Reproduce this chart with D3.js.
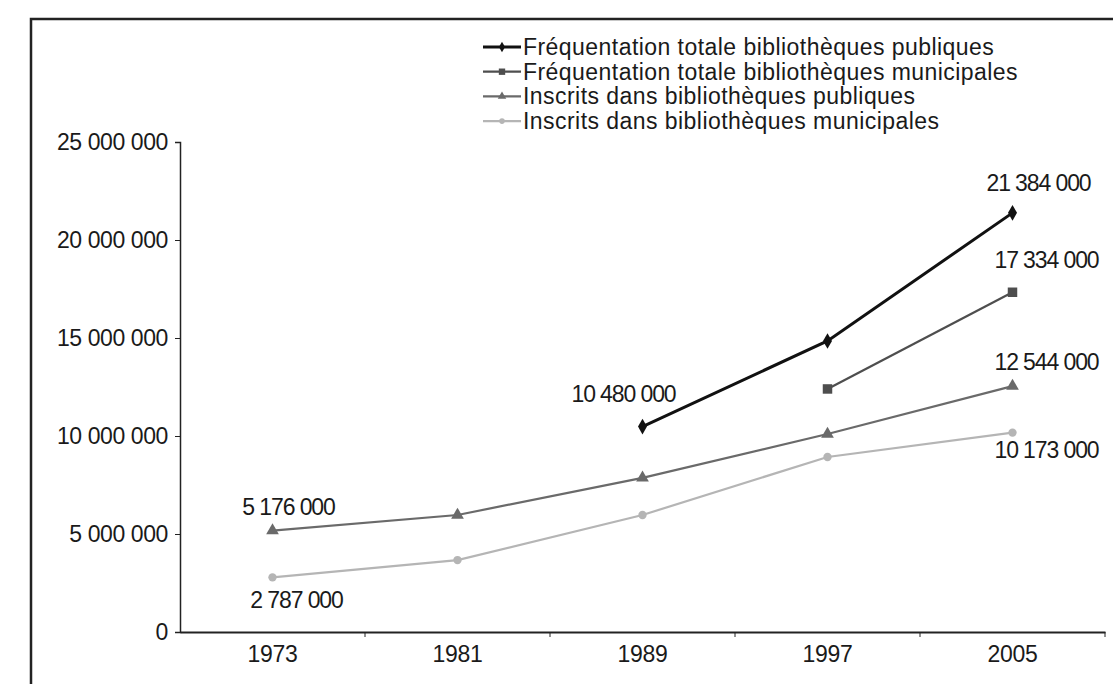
<!DOCTYPE html>
<html>
<head>
<meta charset="utf-8">
<script src="https://cdn.jsdelivr.net/npm/d3@7"></script>
<style>
  body { margin: 0; background: #fff; }
  text { font-family: "Liberation Sans", Arial, sans-serif; fill: #1a1a1a; }
</style>
</head>
<body>
<div id="chart"></div>
<script>
// categories and series
var years = ["1973", "1981", "1989", "1997", "2005"];
var seriesNames = [
  "Fréquentation totale bibliothèques publiques",
  "Fréquentation totale bibliothèques municipales",
  "Inscrits dans bibliothèques publiques",
  "Inscrits dans bibliothèques municipales"
];
var freqPubliques = [null, null, 10480000, 14850000, 21384000];
var freqMunicipales = [null, null, null, 12400000, 17334000];
var inscritsPubliques = [5176000, 5970000, 7860000, 10100000, 12544000];
var inscritsMunicipales = [2787000, 3670000, 5970000, 8930000, 10173000];
var yTicks = [0, 5000000, 10000000, 15000000, 20000000, 25000000];

var W = 1113, H = 684;
var margin = {top: 142, right: 8, bottom: 52, left: 180},
    width = W - margin.left - margin.right,
    height = H - margin.top - margin.bottom;

var svg = d3.select("#chart")
  .append("svg")
    .attr("width", W)
    .attr("height", H);

// outer frame
svg.append("path")
  .attr("d", "M31,690 L31,19 L1120,19")
  .attr("fill", "none")
  .attr("stroke", "#222")
  .attr("stroke-width", 2.5);

var g = svg.append("g")
  .attr("transform", "translate(" + margin.left + "," + margin.top + ")");

var x = d3.scaleBand()
  .domain(years)
  .range([0, width]);

var y = d3.scaleLinear()
  .domain([0, 25000000])
  .range([height, 0]);

var fmt = function(v) { return d3.format(",")(v).replace(/,/g, "\u00a0"); };

// Y axis
var yAxis = g.append("g")
  .call(d3.axisLeft(y).tickValues(yTicks).tickSize(5).tickFormat(function(d) { return d === 0 ? "0" : fmt(d); }));
yAxis.select(".domain").attr("stroke", "#222").attr("stroke-width", 1.5);
yAxis.selectAll(".tick line").attr("stroke", "#222");
yAxis.selectAll("text")
  .attr("x", -12)
  .style("font-size", "23px")
  .style("letter-spacing", "-0.4px")
  .attr("fill", "#1a1a1a");

// X axis with ticks at the band edges
var xAxis = g.append("g")
  .attr("transform", "translate(0," + height + ")")
  .call(d3.axisBottom(x).tickSize(0).tickPadding(14));
xAxis.select(".domain").attr("stroke", "#222").attr("stroke-width", 2);
xAxis.selectAll("text")
  .style("font-size", "23px")
  .style("letter-spacing", "-0.3px")
  .attr("fill", "#1a1a1a");
xAxis.selectAll(".edge")
  .data(years)
  .enter()
  .append("line")
    .attr("x1", function(d) { return x(d) + x.bandwidth(); })
    .attr("x2", function(d) { return x(d) + x.bandwidth(); })
    .attr("y1", 0)
    .attr("y2", 5)
    .attr("stroke", "#222");

var cx = function(i) { return x(years[i]) + x.bandwidth() / 2; };

var series = [
  {name: seriesNames[0], values: freqPubliques, color: "#111", width: 3, symbol: d3.symbolDiamond, size: 70},
  {name: seriesNames[1], values: freqMunicipales, color: "#4e4e4e", width: 2.2, symbol: d3.symbolSquare, size: 90},
  {name: seriesNames[2], values: inscritsPubliques, color: "#6a6a6a", width: 2.2, symbol: d3.symbolTriangle, size: 70},
  {name: seriesNames[3], values: inscritsMunicipales, color: "#b5b5b5", width: 2.2, symbol: d3.symbolCircle, size: 55}
];

var line = d3.line()
  .defined(function(d) { return d !== null; })
  .x(function(d, i) { return cx(i); })
  .y(function(d) { return y(d); });

series.forEach(function(s) {
  g.append("path")
    .datum(s.values)
    .attr("fill", "none")
    .attr("stroke", s.color)
    .attr("stroke-width", s.width)
    .attr("d", line);

  g.selectAll(null)
    .data(s.values.map(function(v, i) { return {v: v, i: i}; }).filter(function(d) { return d.v !== null; }))
    .enter()
    .append("path")
      .attr("d", d3.symbol().type(s.symbol).size(s.size))
      .attr("transform", function(d) { return "translate(" + cx(d.i) + "," + y(d.v) + ")"; })
      .attr("fill", s.color);
});

// value labels
var labels = [
  {s: 0, i: 4, dx: 26, dy: -22},
  {s: 0, i: 2, dx: -19, dy: -25},
  {s: 1, i: 4, dx: 34, dy: -24},
  {s: 2, i: 4, dx: 34, dy: -16},
  {s: 3, i: 4, dx: 34, dy: 25},
  {s: 2, i: 0, dx: 16, dy: -16},
  {s: 3, i: 0, dx: 24, dy: 31}
];
g.selectAll(".vlabel")
  .data(labels)
  .enter()
  .append("text")
    .attr("class", "vlabel")
    .attr("x", function(d) { return cx(d.i) + d.dx; })
    .attr("y", function(d) { return y(series[d.s].values[d.i]) + d.dy; })
    .attr("text-anchor", "middle")
    .style("font-size", "23px")
    .style("letter-spacing", "-1.1px")
    .text(function(d) { return fmt(series[d.s].values[d.i]); });

// legend
var legend = svg.append("g")
  .attr("transform", "translate(483,47)");
var rows = legend.selectAll("g")
  .data(series)
  .enter()
  .append("g")
    .attr("transform", function(d, i) { return "translate(0," + (i * 24.7) + ")"; });
rows.append("line")
  .attr("x1", 0).attr("x2", 38)
  .attr("stroke", function(d) { return d.color; })
  .attr("stroke-width", function(d) { return d.width; });
rows.append("path")
  .attr("d", function(d) { return d3.symbol().type(d.symbol).size(d.size * 0.45)(); })
  .attr("transform", "translate(19,0)")
  .attr("fill", function(d) { return d.color; });
rows.append("text")
  .attr("x", 40)
  .attr("y", 8)
  .style("font-size", "23px")
  .style("letter-spacing", "0.45px")
  .text(function(d) { return d.name; });
</script>
</body>
</html>
